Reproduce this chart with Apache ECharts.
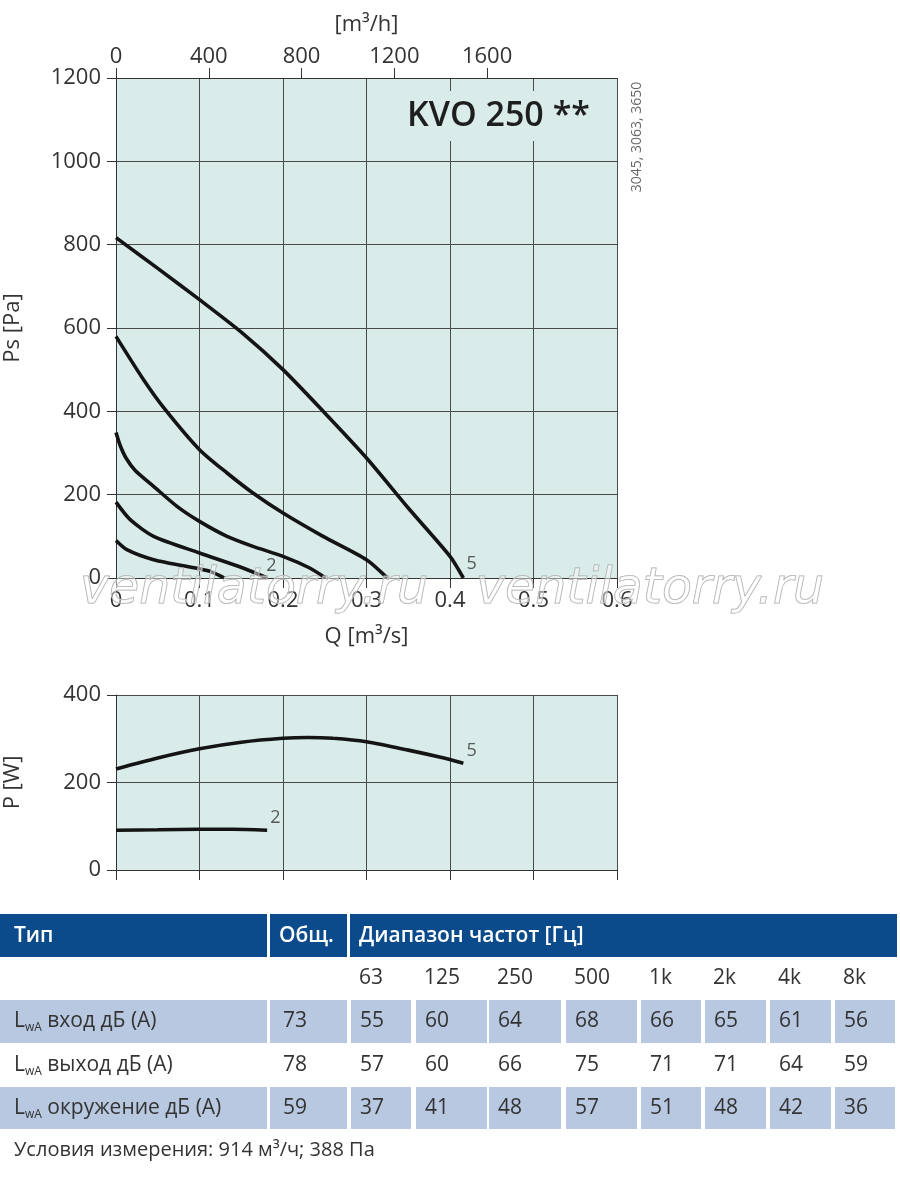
<!DOCTYPE html>
<html>
<head>
<meta charset="utf-8">
<script src="https://cdn.jsdelivr.net/npm/echarts@6/dist/echarts.min.js"></script>
<style>html,body{margin:0;padding:0;background:#fff;}#c{width:900px;height:1181px;}</style>
</head>
<body>
<div id="c"></div>
<script>
// ---- data ----
const qTicks = [0, 0.1, 0.2, 0.3, 0.4, 0.5, 0.6];
const m3hTicks = [0, 400, 800, 1200, 1600];
const psCurve1 = [[0,90],[0.013,68],[0.045,44],[0.1,22],[0.113,16],[0.13,0]];
const psCurve2 = [[0,182],[0.017,140],[0.045,100],[0.1,60],[0.152,24],[0.181,0]];
const psCurve3 = [[0,349],[0.005,318],[0.012,288],[0.023,258],[0.045,220],[0.073,172],[0.1,136],[0.133,100],[0.164,76],[0.2,52],[0.232,24],[0.251,0]];
const psCurve4 = [[0,580],[0.033,476],[0.059,404],[0.1,308],[0.133,252],[0.164,204],[0.2,156],[0.248,100],[0.3,44],[0.325,0]];
const psCurve5 = [[0,817],[0.05,743],[0.1,668],[0.15,590],[0.2,500],[0.25,396],[0.3,288],[0.35,168],[0.4,52],[0.416,0]];
const psLabels = [[0.186,30,'2'],[0.426,34,'5']];
const pCurve2 = [[0,91],[0.05,92],[0.1,93],[0.14,93],[0.181,91]];
const pCurve5 = [[0,231],[0.05,256],[0.1,277],[0.15,292],[0.2,301],[0.23,303],[0.26,301],[0.3,293],[0.35,274],[0.39,257],[0.416,244]];
const pLabels = [[0.191,120,'2'],[0.426,272,'5']];
const freqs = ['63','125','250','500','1k','2k','4k','8k'];
const rowNames = ['вход дБ (A)','выход дБ (A)','окружение дБ (A)'];
const totals = [73, 78, 59];
const inletDb = [55,60,64,68,66,65,61,56];
const outletDb = [57,60,66,75,71,71,64,59];
const surroundDb = [37,41,48,57,51,48,42,36];
const title = 'KVO 250 **';
const sideNote = '3045, 3063, 3650';
const footNote = 'Условия измерения: 914 м³/ч; 388 Па';
const watermark = 'ventilatorry.ru';

// ---- chart ----
const FONT = '"Open Sans", "Noto Sans", sans-serif';
const TXT = '#333';
const GRIDC = '#4a4a4a';
const BG = '#d9ecea';
const chart = echarts.init(document.getElementById('c'), null, {renderer:'canvas'});

function lineSeries(data, xi, yi){
  return {type:'line', data:data, xAxisIndex:xi, yAxisIndex:yi, smooth:0.25, showSymbol:false,
    symbol:'none', lineStyle:{color:'#141414', width:3.6}, silent:true, z:5};
}
function labelSeries(data, xi, yi){
  return {type:'scatter', data:data, xAxisIndex:xi, yAxisIndex:yi, symbolSize:0, silent:true, z:6,
    label:{show:true, position:'inside', formatter:p=>p.value[2], color:TXT, fontSize:18, fontFamily:FONT}};
}

const axisLabelStyle = {color:TXT, fontSize:22, fontFamily:FONT};
const nameStyle = {color:TXT, fontSize:22, fontFamily:FONT};

// table graphics
const g = [];
const cols = [[0,267],[270,347],[351,411],[416,487],[489,561],[566,637],[641,701],[705,766],[770,831],[835,895]];
const HEAD = '#0b4b8c', SHADE = '#b8c8e1';
g.push({type:'rect', shape:{x:0,y:914,width:267,height:43}, style:{fill:HEAD}});
g.push({type:'rect', shape:{x:270,y:914,width:77,height:43}, style:{fill:HEAD}});
g.push({type:'rect', shape:{x:350,y:914,width:547,height:43}, style:{fill:HEAD}});
g.push({type:'text', x:14, y:936, style:{text:'Тип', font:'600 21px '+FONT, fill:'#fff', verticalAlign:'middle'}});
g.push({type:'text', x:279, y:936, style:{text:'Общ.', font:'600 21px '+FONT, fill:'#fff', verticalAlign:'middle'}});
g.push({type:'text', x:359, y:936, style:{text:'Диапазон частот [Гц]', font:'600 21px '+FONT, fill:'#fff', verticalAlign:'middle'}});
freqs.forEach((f,i)=>{
  g.push({type:'text', x:cols[i+2][0]+8, y:978, style:{text:f, font:'21px '+FONT, fill:TXT, verticalAlign:'middle'}});
});
const rows = [inletDb, outletDb, surroundDb];
const rowY = [[1000,1043],[1045,1085],[1087,1129]];
rows.forEach((vals,r)=>{
  const [y0,y1] = rowY[r];
  const cy = (y0+y1)/2;
  if (r !== 1) {
    cols.forEach(c=>{ g.push({type:'rect', shape:{x:c[0],y:y0,width:c[1]-c[0],height:y1-y0}, style:{fill:SHADE}}); });
  }
  g.push({type:'text', x:14, y:cy, style:{text:'{L|L}{s|wA} '+rowNames[r], verticalAlign:'middle',
    font:'21px '+FONT, fill:TXT,
    rich:{L:{fontSize:21, fontFamily:FONT, fill:TXT, verticalAlign:'bottom'}, s:{fontSize:12, fontFamily:FONT, fill:TXT, verticalAlign:'bottom', padding:[0,0,-2,0]}}}});
  g.push({type:'text', x:cols[1][0]+13, y:cy, style:{text:String(totals[r]), font:'21px '+FONT, fill:TXT, verticalAlign:'middle'}});
  vals.forEach((v,i)=>{
    g.push({type:'text', x:cols[i+2][0]+9, y:cy, style:{text:String(v), font:'21px '+FONT, fill:TXT, verticalAlign:'middle'}});
  });
});
g.push({type:'text', x:14, y:1150, style:{text:footNote, font:'20px '+FONT, fill:TXT, verticalAlign:'middle'}});
// title and side note
g.push({type:'text', x:403, y:116, z:3, style:{text:title, font:'600 34px '+FONT, fill:'#1e1e1e', verticalAlign:'middle',
  backgroundColor:BG, padding:[8,4,8,4]}});
g.push({type:'text', x:637, y:137, rotation:Math.PI/2, style:{text:sideNote, font:'14px '+FONT, fill:'#666', align:'center', verticalAlign:'middle'}});
// watermark
g.push({type:'text', x:80, y:590, z:100, style:{text:watermark, font:'italic 49px "DejaVu Sans", sans-serif', fill:'rgba(255,255,255,0.45)', stroke:'#a8a8a8', lineWidth:1, verticalAlign:'middle'}});
g.push({type:'text', x:476, y:590, z:100, style:{text:watermark, font:'italic 49px "DejaVu Sans", sans-serif', fill:'rgba(255,255,255,0.45)', stroke:'#a8a8a8', lineWidth:1, verticalAlign:'middle'}});

const option = {
  animation:false,
  backgroundColor:'#fff',
  grid:[
    {left:116, top:78, width:501, height:500, show:true, backgroundColor:BG, borderWidth:0, containLabel:false, outerBoundsMode:'none'},
    {left:116, top:695, width:501, height:175, show:true, backgroundColor:BG, borderWidth:0, containLabel:false, outerBoundsMode:'none'}
  ],
  xAxis:[
    {type:'value', gridIndex:0, min:0, max:0.6, interval:0.1, position:'bottom',
     name:'Q [m³/s]', nameLocation:'middle', nameGap:48, nameTextStyle:nameStyle,
     axisLine:{show:true, lineStyle:{color:'#333', width:1}},
     axisTick:{show:true, length:10, lineStyle:{color:'#333'}},
     axisLabel:Object.assign({margin:12, formatter:v=>String(+v.toFixed(1))}, axisLabelStyle),
     splitLine:{show:true, lineStyle:{color:GRIDC, width:1}}},
    {type:'value', gridIndex:0, min:0, max:2160, position:'top',
     name:'[m³/h]', nameLocation:'middle', nameGap:42, nameTextStyle:nameStyle,
     axisLine:{show:true, lineStyle:{color:'#333'}},
     axisTick:{show:true, length:10, customValues:m3hTicks, lineStyle:{color:'#333'}},
     axisLabel:Object.assign({margin:10, customValues:m3hTicks, formatter:v=>String(v)}, axisLabelStyle),
     splitLine:{show:false}},
    {type:'value', gridIndex:1, min:0, max:0.6, interval:0.1, position:'bottom',
     axisLine:{show:true, lineStyle:{color:'#333'}},
     axisTick:{show:true, length:10, lineStyle:{color:'#333'}},
     axisLabel:{show:false},
     splitLine:{show:true, lineStyle:{color:GRIDC, width:1}}}
  ],
  yAxis:[
    {type:'value', gridIndex:0, min:0, max:1200, interval:200,
     name:'Ps [Pa]', nameLocation:'middle', nameGap:92, nameRotate:90, nameTextStyle:nameStyle,
     axisLine:{show:true, lineStyle:{color:'#333'}},
     axisTick:{show:true, length:9, lineStyle:{color:'#333'}},
     axisLabel:Object.assign({margin:15, formatter:v=>String(v)}, axisLabelStyle),
     splitLine:{show:true, lineStyle:{color:GRIDC, width:1}}},
    {type:'value', gridIndex:1, min:0, max:400, interval:200,
     name:'P [W]', nameLocation:'middle', nameGap:92, nameRotate:90, nameTextStyle:nameStyle,
     axisLine:{show:true, lineStyle:{color:'#333'}},
     axisTick:{show:true, length:9, lineStyle:{color:'#333'}},
     axisLabel:Object.assign({margin:15, formatter:v=>String(v)}, axisLabelStyle),
     splitLine:{show:true, lineStyle:{color:GRIDC, width:1}}}
  ],
  series:[
    lineSeries(psCurve1,0,0), lineSeries(psCurve2,0,0), lineSeries(psCurve3,0,0),
    lineSeries(psCurve4,0,0), lineSeries(psCurve5,0,0),
    labelSeries(psLabels,0,0),
    lineSeries(pCurve2,2,1), lineSeries(pCurve5,2,1),
    labelSeries(pLabels,2,1)
  ],
  graphic:g
};
chart.setOption(option);
</script>
</body>
</html>
